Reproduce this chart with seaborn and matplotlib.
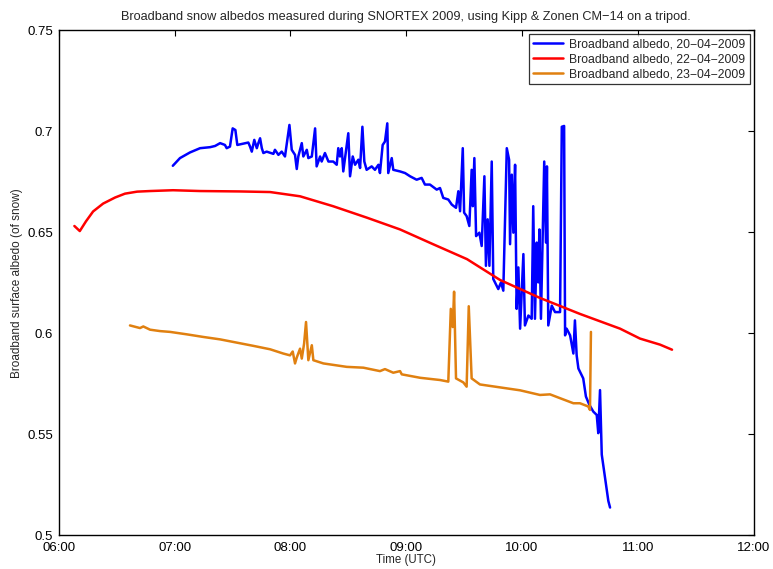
import numpy as np
import pandas as pd
import seaborn as sns
import matplotlib
matplotlib.use("Agg")
import matplotlib.pyplot as plt

# times are minutes after midnight (UTC), values are broadband albedo
t_0420 = [419.1, 422.8, 428.0, 433.2, 438.4, 441.0, 443.6, 446.1, 447.0, 448.7,
          450.1, 451.5, 452.5, 458.2, 459.1, 460.0, 461.3, 462.6, 463.4, 464.3,
          465.2, 466.0, 467.7, 471.2, 472.0, 473.8, 475.5, 477.2, 479.5, 480.7,
          482.4, 483.3, 484.1, 485.9, 486.7, 488.5, 489.3, 491.1, 492.8, 493.6,
          495.4, 496.2, 497.9, 499.7, 502.2, 504.0, 504.8, 505.7, 506.6, 507.4,
          508.3, 510.0, 510.9, 512.3, 513.5, 515.2, 516.1, 517.3, 518.3, 519.5,
          522.1, 523.8, 525.6, 526.4, 527.8, 529.0, 530.2, 530.7, 532.5, 533.3,
          536.8, 539.4, 542.0, 545.4, 548.0, 549.7, 552.3, 555.8, 557.5, 559.2,
          561.8, 563.6, 565.8, 567.0, 567.9, 569.3, 570.0, 571.3, 572.7, 573.9,
          574.5, 575.3, 576.2, 577.9, 579.1, 580.5, 581.3, 582.2, 583.1, 584.3,
          585.1, 587.7, 589.1, 590.3, 592.1, 593.3, 593.8, 594.7, 595.5, 596.4,
          597.2, 598.1, 599.0, 600.7, 601.5, 603.3, 605.0, 605.8, 606.7, 607.6,
          608.4, 609.0, 609.8, 611.5, 612.4, 612.9, 613.6, 615.4, 617.1, 619.7,
          620.6, 621.8, 622.3, 623.1, 624.9, 626.6, 627.4, 628.3, 629.2, 630.9,
          631.7, 633.1, 634.9, 636.9, 638.7, 639.5, 640.4, 641.3, 643.0, 644.7,
          645.6]
a_0420 = [0.6829, 0.6867, 0.6895, 0.6916, 0.6921, 0.6927, 0.6941, 0.6932, 0.6916, 0.6924,
          0.7014, 0.7006, 0.6932, 0.6944, 0.6924, 0.6899, 0.6957, 0.6916, 0.6941, 0.6965,
          0.6916, 0.6892, 0.6899, 0.6888, 0.6908, 0.6883, 0.6899, 0.6875, 0.7031, 0.6908,
          0.6883, 0.6813, 0.6875, 0.6941, 0.6875, 0.6908, 0.6867, 0.6875, 0.7014, 0.6826,
          0.6875, 0.6850, 0.6892, 0.6850, 0.6850, 0.6834, 0.6916, 0.6875, 0.6916, 0.6801,
          0.6867, 0.6990, 0.6777, 0.6875, 0.6834, 0.6859, 0.6818, 0.7022, 0.6850, 0.6809,
          0.6826, 0.6809, 0.6834, 0.6793, 0.6932, 0.6949, 0.7039, 0.6793, 0.6867, 0.6809,
          0.6801, 0.6793, 0.6777, 0.6760, 0.6769, 0.6736, 0.6736, 0.6711, 0.6719, 0.6670,
          0.6662, 0.6637, 0.6621, 0.6703, 0.6604, 0.6916, 0.6597, 0.6580, 0.6531, 0.6809,
          0.6629, 0.6867, 0.6481, 0.6498, 0.6432, 0.6777, 0.6334, 0.6564, 0.6334, 0.6850,
          0.6269, 0.6219, 0.6252, 0.6211, 0.6916, 0.6859, 0.6441, 0.6785, 0.6498, 0.6834,
          0.6121, 0.6326, 0.6023, 0.6392, 0.6039, 0.6088, 0.6072, 0.6629, 0.6072, 0.6449,
          0.6252, 0.6514, 0.6072, 0.6850, 0.6449, 0.6826, 0.6039, 0.6137, 0.6105, 0.6105,
          0.7022, 0.7026, 0.5990, 0.6023, 0.5990, 0.5900, 0.6064, 0.5891, 0.5826, 0.5793,
          0.5777, 0.5687, 0.5646, 0.5613, 0.5596, 0.5506, 0.5719, 0.5400, 0.5285, 0.5171,
          0.5138]

t_0422 = [368.1, 370.9, 374.1, 377.8, 383.0, 389.2, 394.3, 400.6, 407.3, 419.2,
          433.2, 453.9, 469.5, 485.0, 502.1, 519.7, 536.8, 553.9, 571.5, 588.6,
          609.3, 630.0, 650.8, 661.1, 671.5, 677.7]
a_0422 = [0.6531, 0.6506, 0.6554, 0.6603, 0.6642, 0.6672, 0.6691, 0.6701, 0.6704, 0.6708,
          0.6704, 0.6702, 0.6699, 0.6678, 0.6629, 0.6572, 0.6514, 0.6441, 0.6367, 0.6264,
          0.6175, 0.6096, 0.6023, 0.5974, 0.5944, 0.5919]

t_0423 = [396.9, 402.1, 403.8, 407.3, 412.5, 417.7, 426.3, 434.9, 443.6, 452.2,
          460.8, 469.5, 476.3, 479.8, 481.2, 482.4, 483.3, 485.0, 485.9, 487.1,
          488.1, 489.3, 491.1, 491.9, 497.1, 509.2, 517.8, 526.4, 529.0, 533.3,
          536.8, 537.7, 547.2, 557.5, 561.8, 563.1, 564.1, 564.8, 565.8, 569.6,
          571.3, 572.4, 573.9, 578.2, 599.0, 609.3, 614.5, 619.7, 626.6, 630.0,
          634.3, 635.2, 635.7]
a_0423 = [0.6039, 0.6026, 0.6034, 0.6018, 0.6011, 0.6007, 0.5995, 0.5982, 0.5970, 0.5954,
          0.5938, 0.5921, 0.5900, 0.5891, 0.5910, 0.5851, 0.5880, 0.5924, 0.5875, 0.5949,
          0.6056, 0.5867, 0.5941, 0.5867, 0.5851, 0.5834, 0.5830, 0.5813, 0.5823, 0.5805,
          0.5813, 0.5797, 0.5780, 0.5769, 0.5761, 0.6121, 0.6031, 0.6206, 0.5777, 0.5757,
          0.5736, 0.6134, 0.5777, 0.5747, 0.5718, 0.5695, 0.5698, 0.5679, 0.5654, 0.5654,
          0.5638, 0.5621, 0.6007]

labels = ["Broadband albedo, 20\u221204\u22122009",
          "Broadband albedo, 22\u221204\u22122009",
          "Broadband albedo, 23\u221204\u22122009"]
colors = ["#0000FF", "#FF0000", "#E08010"]

x_ticks = [360, 420, 480, 540, 600, 660, 720]
x_ticklabels = ["06:00", "07:00", "08:00", "09:00", "10:00", "11:00", "12:00"]
y_ticks = [0.5, 0.55, 0.6, 0.65, 0.7, 0.75]
y_ticklabels = ["0.5", "0.55", "0.6", "0.65", "0.7", "0.75"]

frames = []
for t, a, lab in zip([t_0420, t_0422, t_0423], [a_0420, a_0422, a_0423], labels):
    frames.append(pd.DataFrame({"time": t, "albedo": a, "day": lab}))
df = pd.concat(frames, ignore_index=True)

sns.set_style("white")
plt.rcParams["font.family"] = ["Liberation Sans", "DejaVu Sans"]

fig = plt.figure(figsize=(7.73, 5.69), dpi=100)
ax = fig.add_axes([0.076, 0.059, 0.899, 0.888])

sns.lineplot(data=df, x="time", y="albedo", hue="day", palette=dict(zip(labels, colors)),
             estimator=None, sort=False, linewidth=1.8, ax=ax)

ax.set_xlim(360, 720)
ax.set_ylim(0.5, 0.75)
ax.set_xticks(x_ticks)
ax.set_xticklabels(x_ticklabels)
ax.set_yticks(y_ticks)
ax.set_yticklabels(y_ticklabels)
ax.tick_params(direction="in", top=True, right=True, length=4.5, width=0.8,
               labelsize=9.5, colors="black")
ax.tick_params(axis="y", pad=4)
ax.tick_params(axis="x", pad=4.5)
for s in ax.spines.values():
    s.set_linewidth(1.0)
    s.set_color("black")

ax.set_xlabel("Time (UTC)", fontsize=8.3, labelpad=0)
ax.set_ylabel("Broadband surface albedo (of snow)", fontsize=8.5, labelpad=3)
ax.set_title("Broadband snow albedos measured during SNORTEX 2009, using Kipp & Zonen CM\u221214 on a tripod.",
             fontsize=9.2, pad=7)

leg = ax.legend(loc="upper right", fontsize=8.8, frameon=True, fancybox=False,
                borderaxespad=0.3, handlelength=2.5, labelspacing=0.25,
                borderpad=0.35, handletextpad=0.5)
leg.get_frame().set_edgecolor("black")
leg.get_frame().set_linewidth(0.9)
for line in leg.get_lines():
    line.set_linewidth(1.8)

fig.savefig("out.png", dpi=100, facecolor="white")
